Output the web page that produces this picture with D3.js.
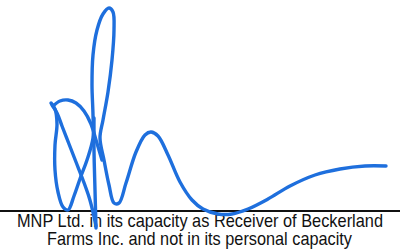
<!DOCTYPE html>
<html>
<head>
<meta charset="utf-8">
<script src="https://cdn.jsdelivr.net/npm/d3@7"></script>
<style>
  html, body { margin: 0; padding: 0; background: #fff; }
  svg { display: block; }
</style>
</head>
<body>
<div id="sig"></div>
<script>
//SVG width and height values
var svgWidth = 411;
var svgHeight = 251;

//Signature strokes (x, y in picture units)
var loopStroke = [[51,103],[55,109],[57,124],[55,145],[55,170],[58,192],[63,207],[68,210],[74,196],[81,176],[87,160],[93,138],[93,115],[92,85],[93,55],[97,30],[103,14],[109,8],[113,12],[114,30],[112,60],[108,92],[103,120],[100,138],[104,160],[109,185],[114,203],[119,203],[126,183],[136,152],[145,135],[151,132],[158,136],[168,155],[180,182],[192,200],[203,209],[218,214],[232,214],[248,209],[268,199],[290,186],[315,175],[340,169],[365,166],[386,166]];
var arcStroke = [[53,106],[60,101],[68,100],[76,103],[84,111],[91,124],[96,140],[102,160]];
var stemStroke = [[94,118],[94,150],[95,190],[96,228]];
var slashStroke = [[52,105],[57,113],[62,126],[69,144],[76,162],[83,180],[89,197],[93,212],[96,226]];

//Signature line and caption
var lineEnds = [0, 400];
var lineLevel = 211;
var captionLines = ["MNP Ltd. in its capacity as Receiver of Beckerland", "Farms Inc. and not in its personal capacity"];
var captionLeft = [17, 47];
var captionRight = [383, 352];
var captionBase = [227, 244.5];

var svg = d3.select("#sig")
  .append("svg")
  .attr("width", svgWidth)
  .attr("height", svgHeight);

//Scales (picture units onto pixels)
var xScale = d3.scaleLinear().domain([0, 411]).range([0, svgWidth]);
var yScale = d3.scaleLinear().domain([0, 251]).range([0, svgHeight]);

//Black signature line
svg.append("line")
  .attr("x1", xScale(lineEnds[0]))
  .attr("x2", xScale(lineEnds[1]))
  .attr("y1", yScale(lineLevel))
  .attr("y2", yScale(lineLevel))
  .attr("stroke", "#111")
  .attr("stroke-width", 2);

//Caption text
svg.selectAll(".caption")
  .data(captionLines)
  .enter()
  .append("text")
  .attr("class", "caption")
  .attr("x", (d, i) => xScale(captionLeft[i]))
  .attr("y", (d, i) => yScale(captionBase[i]))
  .attr("textLength", (d, i) => xScale(captionRight[i]) - xScale(captionLeft[i]))
  .attr("lengthAdjust", "spacingAndGlyphs")
  .attr("font-family", "Liberation Sans, Arial, sans-serif")
  .attr("font-size", 19)
  .attr("fill", "#111")
  .text(d => d);

//Blue ink strokes
var ink = d3.line()
  .x(d => xScale(d[0]))
  .y(d => yScale(d[1]))
  .curve(d3.curveCatmullRom.alpha(0.5));

svg.selectAll(".stroke")
  .data([loopStroke, arcStroke, stemStroke, slashStroke])
  .enter()
  .append("path")
  .attr("class", "stroke")
  .attr("d", ink)
  .attr("fill", "none")
  .attr("stroke", "#1e6fdd")
  .attr("stroke-width", 3.4)
  .attr("stroke-linecap", "round")
  .attr("stroke-linejoin", "round");
</script>
</body>
</html>
